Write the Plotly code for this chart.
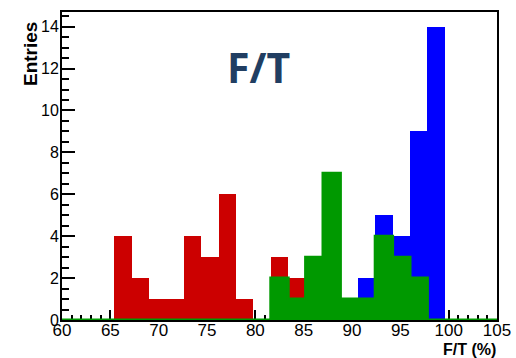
import plotly.graph_objects as go

# Histogram binning: 25 bins of width 1.8 from 60 to 105
bin_start = 60.0
bin_width = 1.8
n_bins = 25

red_counts   = [0, 0, 0, 4, 2, 1, 1, 4, 3, 6, 1, 0, 3, 2, 0, 0, 0, 0, 0, 0, 0, 0, 0, 0, 0]
green_counts = [0, 0, 0, 0, 0, 0, 0, 0, 0, 0, 0, 0, 2, 1, 3, 7, 1, 1, 4, 3, 2, 0, 0, 0, 0]
blue_counts  = [0, 0, 0, 0, 0, 0, 0, 0, 0, 0, 0, 0, 0, 0, 0, 0, 0, 2, 5, 4, 9, 14, 0, 0, 0]

x_ticks = [60, 65, 70, 75, 80, 85, 90, 95, 100, 105]
y_ticks = [0, 2, 4, 6, 8, 10, 12, 14]

edges = [bin_start + i * bin_width for i in range(n_bins + 1)]
centers = [bin_start + (i + 0.5) * bin_width for i in range(n_bins)]

RED = "rgb(204,0,0)"
GREEN = "rgb(0,153,0)"
BLUE = "rgb(0,0,255)"

fig = go.Figure()
for counts, col in [(blue_counts, BLUE), (red_counts, RED), (green_counts, GREEN)]:
    fig.add_trace(go.Bar(x=centers, y=counts, width=bin_width, marker=dict(color=col, line=dict(width=0)),
                         opacity=1, showlegend=False, hoverinfo="skip"))

# green histogram outline (visible along the baseline)
fig.add_trace(go.Scatter(x=edges, y=green_counts + [green_counts[-1]], mode="lines",
                         line=dict(color=GREEN, width=3, shape="hv"), cliponaxis=False,
                         showlegend=False, hoverinfo="skip"))

font_fam = "Liberation Sans, Arial, Helvetica, sans-serif"
PW, PH = 516 - 62 - 19, 358 - 12 - 38
fig.update_layout(
    width=516, height=358,
    margin=dict(l=62, r=19, t=12, b=38, autoexpand=False),
    paper_bgcolor="white", plot_bgcolor="white",
    barmode="overlay", bargap=0,
    font=dict(family=font_fam, size=16, color="black"),
    xaxis=dict(range=[60, 105], tickvals=x_ticks, ticktext=[str(v) for v in x_ticks],
               ticks="inside", ticklen=10, tickwidth=1.5, tickcolor="black",
               minor=dict(dtick=1, ticks="inside", ticklen=5, tickwidth=1.5, tickcolor="black", showgrid=False),
               showline=True, linecolor="black", linewidth=2, mirror=True,
               showgrid=False, zeroline=False, layer="below traces", automargin=False,
               ticklabelstandoff=-6, tickfont=dict(size=17)),
    yaxis=dict(range=[0, 14.7], tickvals=y_ticks, ticktext=[str(v) for v in y_ticks],
               ticks="inside", ticklen=13, tickwidth=1.5, tickcolor="black",
               minor=dict(dtick=0.5, ticks="inside", ticklen=7, tickwidth=1.5, tickcolor="black", showgrid=False),
               showline=True, linecolor="black", linewidth=2, mirror=True,
               showgrid=False, zeroline=False, layer="below traces", automargin=False,
               ticklabelstandoff=-2, tickfont=dict(size=16)),
)

fig.add_annotation(text="F/T", xref="paper", yref="paper", x=(258 - 62) / PW, y=(320 - 67) / PH,
                   xanchor="center", yanchor="middle", showarrow=False,
                   font=dict(family="Open Sans, Noto Sans, sans-serif", size=41, color="#213E62", weight="bold"))
fig.add_annotation(text="<b>Entries</b>", xref="paper", yref="paper",
                   x=(30 - 62) / PW, y=(320 - 20) / PH, xanchor="center", yanchor="top", textangle=-90,
                   showarrow=False, font=dict(family=font_fam, size=19, color="black"))
fig.add_annotation(text="<b>F/T (%)</b>", xref="paper", yref="paper",
                   x=(498 - 62) / PW, y=-(349 - 320) / PH, xanchor="right", yanchor="middle", showarrow=False,
                   font=dict(family=font_fam, size=16, color="black"))

fig.write_html("out.html")
